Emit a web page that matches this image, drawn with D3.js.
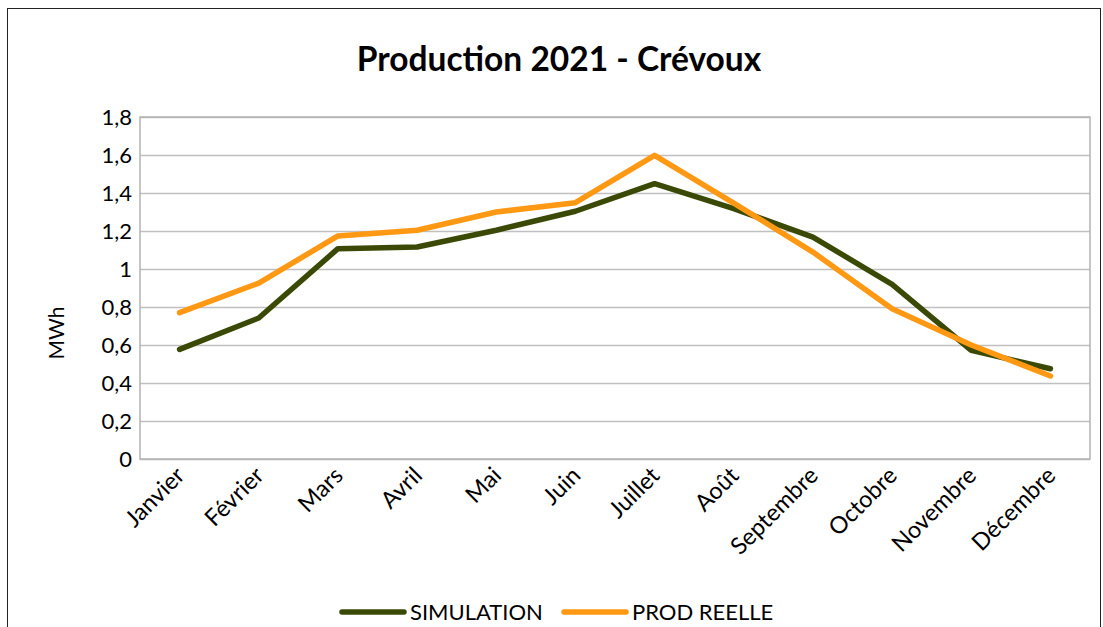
<!DOCTYPE html>
<html><head><meta charset="utf-8">
<script src="https://cdn.jsdelivr.net/npm/d3@7"></script>
<style>body{margin:0;background:#fff}svg{display:block}text{font-family:Lato,"Open Sans",sans-serif}</style>
</head><body><svg id="c" width="1103" height="627"></svg>
<script>
const months = ["Janvier","Février","Mars","Avril","Mai","Juin","Juillet","Août","Septembre","Octobre","Novembre","Décembre"];
const simulation = [0.577,0.742,1.107,1.116,1.204,1.304,1.449,1.318,1.168,0.919,0.572,0.475];
const prodReelle = [0.77,0.926,1.174,1.204,1.30,1.349,1.598,1.347,1.089,0.791,0.60,0.437];
const yTicks = [0,0.2,0.4,0.6,0.8,1,1.2,1.4,1.6,1.8];
const seriesNames = ["SIMULATION","PROD REELLE"];
const colors = ["#3a4a06","#ff9812"];

const svg = d3.select("#c");
svg.append("rect").attr("x",7.5).attr("y",8.5).attr("width",1093).attr("height",640).attr("fill","#fff").attr("stroke","#222").attr("stroke-width",1);

const L=140,R=1090,T=117,B=459;
const x = d3.scalePoint().domain(months).range([L,R]).padding(0.5);
const y = d3.scaleLinear().domain([0,1.8]).range([B,T]);
const fmt = d => String(d).replace(".",",");

svg.append("text").attr("x",559).attr("y",71).attr("text-anchor","middle").attr("font-size",33.5).attr("font-weight","bold").attr("fill","#000").text("Production 2021 - Crévoux");

// grid
const yAx = svg.append("g").attr("transform",`translate(${L},0)`).call(d3.axisLeft(y).tickValues(yTicks).tickFormat(fmt).tickSize(-(R-L)).tickPadding(8));
yAx.select(".domain").remove();
yAx.selectAll(".tick line").attr("stroke","#c0c0c0").attr("stroke-width",1.5);
yAx.selectAll(".tick text").attr("font-size",22).attr("fill","#000").attr("font-family","Lato");
svg.append("rect").attr("x",L).attr("y",T).attr("width",R-L).attr("height",B-T).attr("fill","none").attr("stroke","#b3b3b3").attr("stroke-width",1.5);

const xAx = svg.append("g").attr("transform",`translate(0,${B})`).call(d3.axisBottom(x).tickSize(0).tickPadding(0));
xAx.select(".domain").remove();
xAx.selectAll(".tick text").attr("font-size",23.5).attr("fill","#000").attr("font-family","Lato")
  .attr("text-anchor","end").attr("dy",0).attr("transform","translate(6,18) rotate(-45)");

svg.append("text").attr("transform","translate(64,333) rotate(-90)").attr("text-anchor","middle").attr("font-size",21).attr("fill","#000").text("MWh");

const line = d3.line().x((d,i)=>x(months[i])).y(d=>y(d));
[simulation,prodReelle].forEach((s,k)=>{
  svg.append("path").datum(s).attr("d",line).attr("fill","none").attr("stroke",colors[k]).attr("stroke-width",5.5).attr("stroke-linejoin","round").attr("stroke-linecap","round");
});

// legend
const lx=[342,564];
seriesNames.forEach((n,k)=>{
  svg.append("line").attr("x1",lx[k]).attr("x2",lx[k]+62).attr("y1",612).attr("y2",612).attr("stroke",colors[k]).attr("stroke-width",5.5).attr("stroke-linecap","round");
  svg.append("text").attr("x",lx[k]+68).attr("y",620).attr("font-size",22).attr("fill","#000").text(n);
});
</script></body></html>
